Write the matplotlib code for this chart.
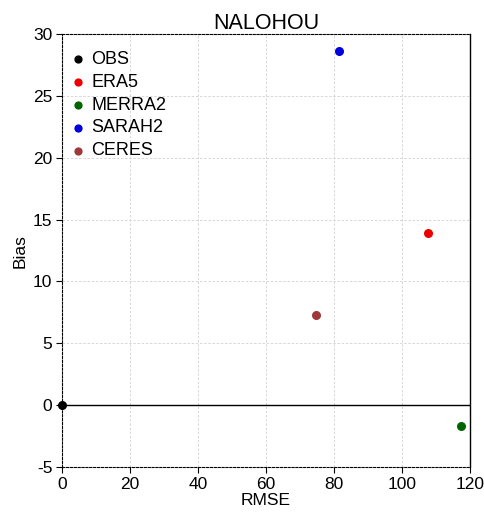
import matplotlib
matplotlib.use("Agg")
from matplotlib import pyplot as plt

plt.rcParams['font.family'] = ['Liberation Sans', 'DejaVu Sans']
plt.rcParams['axes.unicode_minus'] = False

# data
names = ['OBS', 'ERA5', 'MERRA2', 'SARAH2', 'CERES']
rmse = [0.0, 107.8, 117.3, 81.4, 74.7]
bias = [0.0, 13.9, -1.7, 28.6, 7.3]
colors = ['#000000', '#ee0000', '#006400', '#0000dd', '#a0373a']

fig = plt.figure(figsize=(4.85, 5.18), dpi=100)
ax = fig.add_axes([0.128, 0.0985, 0.841, 0.8355])

ax.axhline(0, color='black', lw=1, zorder=1)
for n, x, y, c in zip(names, rmse, bias, colors):
    ax.scatter(x, y, s=30, color=c, label=n, zorder=3, clip_on=False)

ax.set_xlim(0, 120)
ax.set_ylim(-5, 30)
ax.set_xticks(range(0, 121, 20))
ax.set_yticks(range(-5, 31, 5))
ax.grid(True, ls=(0, (3, 2)), color='#d2d2d2', lw=0.6)
ax.set_axisbelow(True)
ax.tick_params(labelsize=12.5, direction='out', length=4, width=0.8, pad=3)

for s in ['left', 'top', 'bottom']:
    ax.spines[s].set_linestyle((0, (2, 1.5)))
    ax.spines[s].set_linewidth(0.8)
ax.spines['right'].set_linewidth(1)

ax.set_xlabel('RMSE', fontsize=12.5, labelpad=1)
ax.set_ylabel('Bias', fontsize=12.5, labelpad=4)
ax.set_title('NALOHOU', fontsize=15.5, pad=3)

ax.legend(loc='upper left', bbox_to_anchor=(-0.01, 0.99), frameon=False,
          fontsize=13, handletextpad=0.35, borderaxespad=0.3,
          labelspacing=0.32, handlelength=0.8,
          scatterpoints=1, markerscale=0.9)

plt.savefig('out.png', dpi=100)
plt.close()
